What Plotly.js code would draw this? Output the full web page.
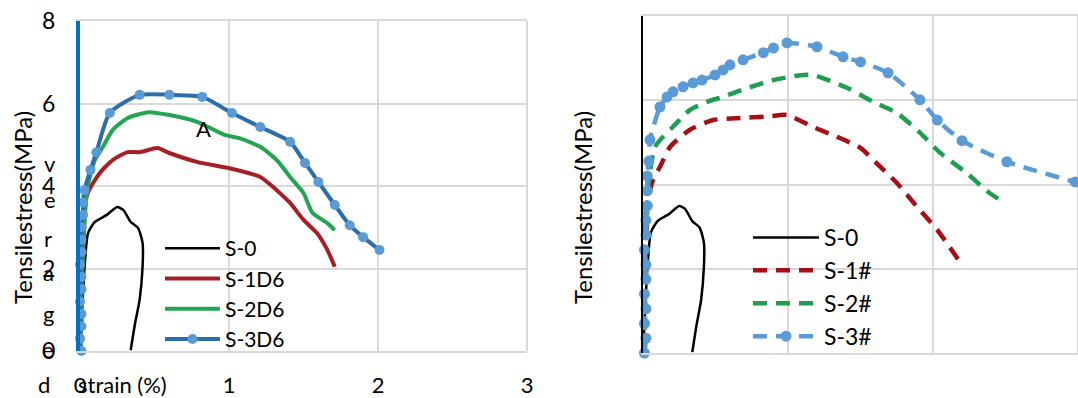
<!DOCTYPE html>
<html>
<head>
<meta charset="utf-8">
<script src="https://cdn.plot.ly/plotly-3.0.1.min.js"></script>
<style>html,body{margin:0;padding:0;background:#fff}#chart{width:1078px;height:398px}</style>
</head>
<body>
<div id="chart"></div>
<script>
// ---- data (strain %, tensile stress MPa) ----
const s0_x = [0, 0.03, 0.054, 0.10, 0.18, 0.25, 0.29, 0.34, 0.39, 0.42, 0.42, 0.40, 0.37, 0.34];
const s0_y = [0, 2.0, 2.86, 3.13, 3.30, 3.49, 3.42, 3.13, 2.98, 2.62, 2.04, 1.24, 0.68, 0.02];

const s1d6_x = [0, 0.013, 0.047, 0.134, 0.22, 0.32, 0.40, 0.52, 0.60, 0.79, 0.99, 1.21, 1.32, 1.41, 1.50, 1.59, 1.66, 1.71];
const s1d6_y = [0, 1.96, 3.78, 4.32, 4.63, 4.82, 4.82, 4.92, 4.80, 4.58, 4.44, 4.22, 3.90, 3.59, 3.18, 2.86, 2.45, 2.04];

const s2d6_x = [0, 0.013, 0.047, 0.10, 0.154, 0.22, 0.32, 0.46, 0.60, 0.79, 0.97, 1.07, 1.21, 1.32, 1.41, 1.50, 1.56, 1.66, 1.71];
const s2d6_y = [0, 1.72, 3.90, 4.63, 4.95, 5.36, 5.65, 5.79, 5.72, 5.55, 5.24, 5.16, 4.95, 4.63, 4.22, 3.83, 3.35, 3.10, 2.93];

const s3d6_x = [0.01, 0.00, 0.01, 0.01, 0.00, 0.01, 0.01, 0.00, 0.01, 0.01, 0.01, 0.02, 0.02, 0.03, 0.07, 0.11, 0.20, 0.40, 0.60, 0.82, 1.02, 1.21, 1.41, 1.51, 1.60, 1.71, 1.81, 1.90, 2.01];
const s3d6_y = [0, 0.3, 0.6, 0.9, 1.2, 1.5, 1.8, 2.1, 2.4, 2.7, 3.0, 3.3, 3.6, 3.9, 4.39, 4.82, 5.77, 6.21, 6.21, 6.16, 5.77, 5.43, 5.07, 4.56, 4.10, 3.54, 3.05, 2.76, 2.45];

const s1h_x = [0, 0.02, 0.034, 0.069, 0.117, 0.186, 0.324, 0.483, 0.67, 0.855, 0.993, 1.17, 1.34, 1.50, 1.61, 1.75, 1.89, 2.03, 2.21];
const s1h_y = [0, 2.5, 3.63, 4.11, 4.42, 4.89, 5.30, 5.53, 5.58, 5.61, 5.65, 5.37, 5.13, 4.87, 4.51, 4.04, 3.47, 2.92, 2.04];

const s2h_x = [0, 0.01, 0.083, 0.207, 0.324, 0.44, 0.55, 0.72, 0.90, 1.06, 1.17, 1.41, 1.59, 1.75, 1.91, 2.05, 2.23, 2.39, 2.50];
const s2h_y = [0, 3.0, 4.89, 5.37, 5.77, 5.96, 6.08, 6.29, 6.48, 6.58, 6.60, 6.29, 5.96, 5.70, 5.23, 4.75, 4.28, 3.80, 3.56];

const s3h_x = [0.01, 0.02, 0.01, 0.02, 0.01, 0.02, 0.02, 0.01, 0.02, 0.02, 0.03, 0.03, 0.03, 0.04, 0.048, 0.117, 0.166, 0.207, 0.276, 0.345, 0.407, 0.497, 0.552, 0.60, 0.69, 0.83, 0.90, 0.993, 1.20, 1.38, 1.50, 1.69, 1.91, 2.03, 2.20, 2.51, 2.98];
const s3h_y = [0, 0.35, 0.7, 1.05, 1.4, 1.75, 2.1, 2.45, 2.8, 3.15, 3.5, 3.85, 4.2, 4.55, 5.06, 5.84, 6.08, 6.20, 6.32, 6.41, 6.48, 6.60, 6.72, 6.84, 6.96, 7.13, 7.24, 7.36, 7.27, 7.03, 6.91, 6.65, 6.01, 5.53, 5.04, 4.54, 4.06];

const xTicks = [0, 1, 2, 3];
const yTicks = [0, 2, 4, 6, 8];
const yTitle = 'Tensilestress(MPa)';
const xTitle = 'strain (%)';
const strayLetters = ['v', 'e', 'r', 'a', 'g', 'e', 'd'];

// ---- styling ----
const FONT = 'Lato, "Open Sans", sans-serif';
const W = 1078, H = 398;
const px = v => v / W, py = v => 1 - v / H;
const smooth = {shape: 'spline', smoothing: 0.6};

const traces = [
  {x: s0_x, y: s0_y, name: 'S-0', mode: 'lines', line: Object.assign({color: '#000', width: 2.5}, smooth), xaxis: 'x', yaxis: 'y', legend: 'legend'},
  {x: s1d6_x, y: s1d6_y, name: 'S-1D6', mode: 'lines', line: Object.assign({color: '#A51F24', width: 4}, smooth), xaxis: 'x', yaxis: 'y', legend: 'legend'},
  {x: s2d6_x, y: s2d6_y, name: 'S-2D6', mode: 'lines', line: Object.assign({color: '#25A553', width: 4}, smooth), xaxis: 'x', yaxis: 'y', legend: 'legend'},
  {x: s3d6_x, y: s3d6_y, name: 'S-3D6', mode: 'lines+markers', cliponaxis: false,
   line: Object.assign({color: '#2F6DA8', width: 4}, smooth), marker: {color: '#5B9BD5', size: 10},
   xaxis: 'x', yaxis: 'y', legend: 'legend'},

  {x: s0_x, y: s0_y, name: 'S-0', mode: 'lines', line: Object.assign({color: '#000', width: 2.5}, smooth), xaxis: 'x2', yaxis: 'y2', legend: 'legend2'},
  {x: s1h_x, y: s1h_y, name: 'S-1#', mode: 'lines', line: Object.assign({color: '#A50F15', width: 4.5, dash: '14px,9px'}, smooth), xaxis: 'x2', yaxis: 'y2', legend: 'legend2'},
  {x: s2h_x, y: s2h_y, name: 'S-2#', mode: 'lines', line: Object.assign({color: '#1E9E4E', width: 4.5, dash: '14px,9px'}, smooth), xaxis: 'x2', yaxis: 'y2', legend: 'legend2'},
  {x: s3h_x, y: s3h_y, name: 'S-3#', mode: 'lines+markers', cliponaxis: false,
   line: Object.assign({color: '#5B9BD5', width: 4.5, dash: '14px,9px'}, smooth), marker: {color: '#5B9BD5', size: 11},
   xaxis: 'x2', yaxis: 'y2', legend: 'legend2'}
];

const grid = '#D9D9D9';
const layout = {
  width: W, height: H,
  margin: {l: 0, r: 0, t: 0, b: 0},
  paper_bgcolor: '#fff', plot_bgcolor: '#fff',
  font: {family: FONT, size: 20, color: '#000'},
  showlegend: true,
  xaxis: {domain: [px(80), px(527)], range: [0, 3], tickvals: xTicks, ticktext: xTicks.map(String),
    showgrid: true, gridcolor: grid, gridwidth: 2, zeroline: false,
    showline: true, linecolor: grid, linewidth: 2, mirror: true, ticks: '', ticklabelstandoff: 14,
    tickfont: {family: FONT, size: 22}},
  yaxis: {domain: [1 - 351 / H, 1 - 21 / H], range: [0, 8], tickvals: yTicks, ticktext: yTicks.map(String),
    showgrid: true, gridcolor: grid, gridwidth: 2, zeroline: false,
    showline: true, linecolor: '#0070C0', linewidth: 4, layer: 'above traces', ticks: '', ticklabelstandoff: 16,
    tickfont: {family: FONT, size: 23}},
  xaxis2: {domain: [px(643), 1], range: [0, 3], tickvals: xTicks, showticklabels: false,
    showgrid: true, gridcolor: grid, gridwidth: 2, zeroline: false,
    showline: true, linecolor: grid, linewidth: 2, mirror: true, ticks: '', anchor: 'y2'},
  yaxis2: {domain: [1 - 353 / H, 1 - 16 / H], range: [0, 8], tickvals: yTicks, showticklabels: false,
    showgrid: true, gridcolor: grid, gridwidth: 2, zeroline: false,
    showline: true, linecolor: '#000', linewidth: 2.5, layer: 'above traces', ticks: '', anchor: 'x2'},
  legend: {x: px(160), y: py(228), xanchor: 'left', yanchor: 'top', bgcolor: 'rgba(0,0,0,0)',
    font: {family: FONT, size: 21}, itemwidth: 55, tracegroupgap: 0},
  legend2: {x: px(748), y: py(216), xanchor: 'left', yanchor: 'top', bgcolor: 'rgba(0,0,0,0)',
    font: {family: FONT, size: 23}, itemwidth: 66, tracegroupgap: 0},
  shapes: [
    {type: 'line', xref: 'x domain', yref: 'y domain', x0: 1, x1: 1, y0: 0, y1: 1, line: {color: grid, width: 2}, layer: 'below'},
    {type: 'line', xref: 'x2 domain', yref: 'y2 domain', x0: 1, x1: 1, y0: 0, y1: 1, line: {color: grid, width: 2}, layer: 'below'}
  ],
  annotations: [
    {text: yTitle, xref: 'paper', yref: 'paper', x: px(22), y: py(208), textangle: -90, showarrow: false,
     xanchor: 'center', yanchor: 'middle', font: {family: FONT, size: 24}},
    {text: yTitle, xref: 'paper', yref: 'paper', x: px(582), y: py(208), textangle: -90, showarrow: false,
     xanchor: 'center', yanchor: 'middle', font: {family: FONT, size: 24}},
    {text: xTitle, xref: 'paper', yref: 'paper', x: px(76), y: py(384), showarrow: false,
     xanchor: 'left', yanchor: 'middle', font: {family: FONT, size: 22}},
    {text: 'A', xref: 'paper', yref: 'paper', x: px(203), y: py(128), showarrow: false,
     xanchor: 'center', yanchor: 'middle', font: {family: FONT, size: 22}}
  ]
};
const letterPos = [[50, 163], [50, 200], [48, 238], [48, 272], [48, 313], [48, 349], [44, 384]];
strayLetters.forEach((t, i) => {
  layout.annotations.push({text: t, xref: 'paper', yref: 'paper', x: px(letterPos[i][0]), y: py(letterPos[i][1]),
    showarrow: false, xanchor: 'center', yanchor: 'middle', font: {family: FONT, size: 22}});
});

Plotly.newPlot('chart', traces, layout, {staticPlot: true, displayModeBar: false});
</script>
</body>
</html>
